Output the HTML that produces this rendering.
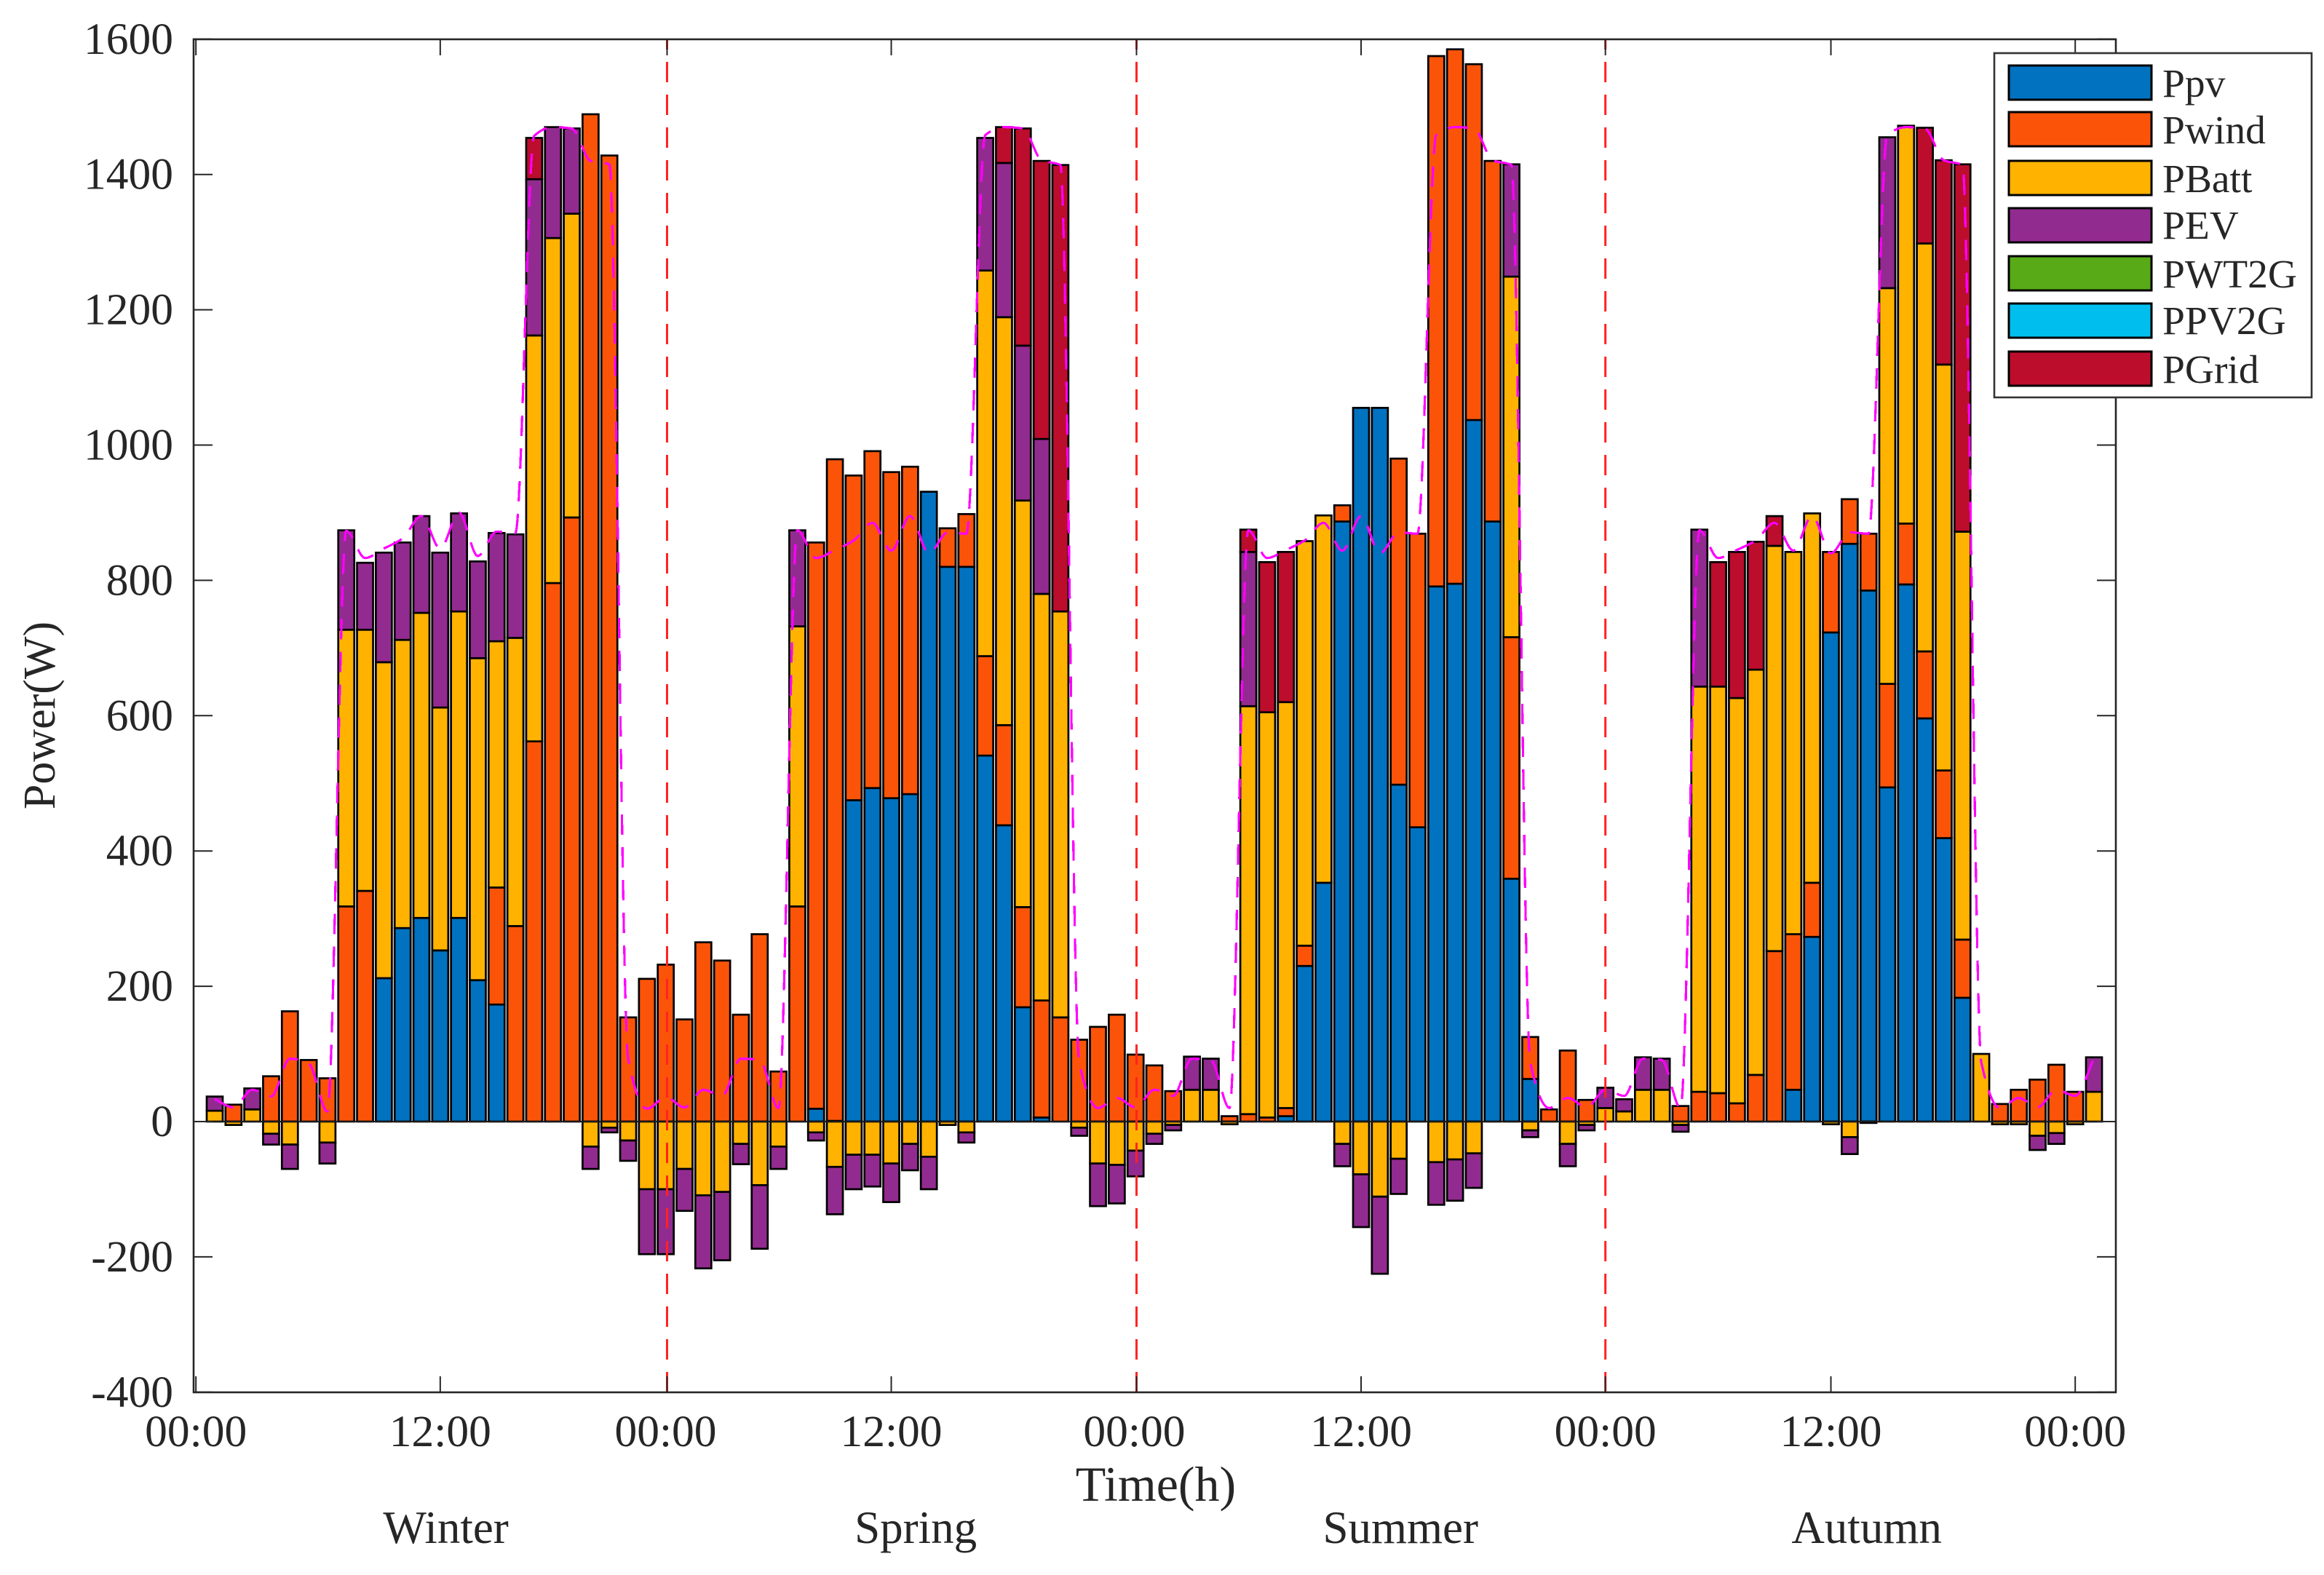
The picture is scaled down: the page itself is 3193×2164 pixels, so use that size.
<!DOCTYPE html>
<html lang="en">
<head>
<meta charset="utf-8">
<title>Seasonal power balance</title>
<style>
html,body{margin:0;padding:0;background:#fff;}
svg{display:block;}
text{font-family:"Liberation Serif",serif;fill:#262626;}
</style>
</head>
<body>
<svg id="chart" xmlns="http://www.w3.org/2000/svg" width="3193" height="2164" viewBox="0 0 3193 2164">
  <rect x="0" y="0" width="3193" height="2164" fill="#ffffff"/>
  <g id="marks"></g>
  <g id="overlay"></g>
  <g id="axes"></g>
  <g id="legend"></g>
</svg>
<script>
const ppv = [0,0,0,0,0,0,0,0,0,212,286,301,253,301,209,173,0,0,0,0,0,0,0,0,0,
0,0,0,0,0,0,0,19,1,475,493,478,484,931,820,820,541,438,169,6,0,0,0,0,0,
0,0,0,0,0,0,0,8,230,353,887,1055,1055,498,435,791,795,1037,887,359,63,0,0,0,0,
0,0,0,0,0,0,0,0,0,47,273,723,854,785,494,794,596,419,183,0,0,0,0,0,0,0];
const pwind = [0,25,0,67,163,91,64,318,341,0,0,0,0,0,0,173,289,562,796,893,1489,1428,154,211,232,
151,265,238,158,277,74,318,837,978,480,498,482,484,0,57,78,147,148,148,173,154,121,140,158,99,
83,45,0,0,8,11,6,12,30,0,24,0,0,482,434,784,790,526,533,357,62,18,105,32,0,
0,0,0,23,44,42,27,69,252,230,80,119,66,84,153,90,99,100,86,0,26,47,62,84,44,0];
const pbatt = [16,-5,18,-18,-34,0,-31,409,386,467,426,451,359,453,476,364,426,600,510,449,-37,-9,-28,-100,-100,
-70,-109,-104,-33,-94,-37,414,-16,-67,-49,-49,-62,-33,-52,-5,-16,570,603,601,601,600,-9,-62,-64,-43,
-18,-5,47,47,-4,603,599,600,598,543,-33,-78,-111,-55,0,-60,-56,-47,0,533,-13,0,-33,-5,20,
15,47,47,-5,599,601,599,599,599,565,546,-4,-23,-2,585,588,603,600,603,100,-4,-4,-21,-17,-4,44];
const pev = [21,0,31,-16,-36,0,-31,147,99,162,144,143,229,145,143,160,153,231,164,126,-33,-7,-30,-96,-96,
-62,-108,-101,-30,-94,-33,142,-12,-70,-51,-47,-57,-39,-48,0,-15,196,228,229,229,0,-12,-63,-57,-38,
-15,-8,49,46,0,228,0,0,0,0,-33,-78,-114,-52,0,-63,-61,-51,0,166,-10,0,-33,-8,30,
18,48,46,-10,232,0,0,0,0,0,0,0,-25,0,223,0,0,0,0,0,0,0,-21,-16,0,51];
const pgrid = [0,0,0,0,0,0,0,0,0,0,0,0,0,0,0,0,0,61,0,0,0,0,0,0,0,
0,0,0,0,0,0,0,0,0,0,0,0,0,0,0,0,0,53,321,411,660,0,0,0,0,
0,0,0,0,0,33,222,222,0,0,0,0,0,0,0,0,0,0,0,0,0,0,0,0,0,
0,0,0,0,0,184,216,189,44,0,0,0,0,0,0,0,171,302,543,0,0,0,0,0,0,0];
const loadDemand = [33,21,47,37,93,86,15,873,833,847,862,895,847,900,836,872,870,1457,1470,1468,1420,1415,93,19,36,
21,47,38,93,91,20,874,833,845,859,885,844,895,840,871,869,1458,1470,1468,1421,1414,88,20,35,21,
47,38,93,91,20,874,833,845,859,885,844,895,840,871,869,1458,1470,1468,1421,1414,88,20,35,21,47,
38,93,91,20,874,833,845,859,885,844,895,840,871,869,1458,1470,1468,1421,1414,88,20,35,21,47,38,93];
const yTicks = [-400,-200,0,200,400,600,800,1000,1200,1400,1600];
const xTickIndex = [-1,12,24.07,36,49.05,61,74,86,99];
const xTickLabels = ['00:00','12:00','00:00','12:00','00:00','12:00','00:00','12:00','00:00'];
const seasonBoundaries = [24.07,49.05,74];
const seasonNames = ['Winter','Spring','Summer','Autumn'];
const seasonCenters = [12.3,37.3,63.1,87.9];
const legendLabels = ['Ppv','Pwind','PBatt','PEV','PWT2G','PPV2G','PGrid'];
const legendColors = ['#0072c0','#fb5409','#ffb300','#922b8f','#58ab16','#00bfef','#bc0d2d'];

const SVGNS = 'http://www.w3.org/2000/svg';
const plot = {left:266, right:2907, top:54, bottom:1913};
function xPos(i){ return 295 + 25.82*i; }
function yPos(v){ return 1541 - 0.9295*v; }
function make(tag, parent, attrs, txt){
  const e = document.createElementNS(SVGNS, tag);
  for (const k in attrs) e.setAttribute(k, attrs[k]);
  if (txt !== undefined) e.textContent = txt;
  parent.appendChild(e);
  return e;
}
/* monotone cubic path through the demand values */
function monotonePath(xs, ys){
  const n = xs.length, d = [], m = [];
  for (let i = 0; i < n-1; i++) d.push((ys[i+1]-ys[i])/(xs[i+1]-xs[i]));
  m.push(d[0]);
  for (let i = 1; i < n-1; i++) {
    if (d[i-1]*d[i] <= 0) m.push(0);
    else m.push(2*d[i-1]*d[i]/(d[i-1]+d[i]));
  }
  m.push(d[n-2]);
  let p = 'M' + xs[0].toFixed(1) + ' ' + ys[0].toFixed(1);
  for (let i = 0; i < n-1; i++) {
    const h = (xs[i+1]-xs[i])/3;
    p += 'C' + (xs[i]+h).toFixed(1) + ' ' + (ys[i]+m[i]*h).toFixed(1) + ' ' +
         (xs[i+1]-h).toFixed(1) + ' ' + (ys[i+1]-m[i+1]*h).toFixed(1) + ' ' +
         xs[i+1].toFixed(1) + ' ' + ys[i+1].toFixed(1);
  }
  return p;
}
const marks = document.getElementById('marks');
const overlay = document.getElementById('overlay');
const axes = document.getElementById('axes');
const legend = document.getElementById('legend');

/* stacked bars */
const stackSeries = [
  {key:'ppv', values:ppv, color:legendColors[0]},
  {key:'pwind', values:pwind, color:legendColors[1]},
  {key:'pbatt', values:pbatt, color:legendColors[2]},
  {key:'pev', values:pev, color:legendColors[3]},
  {key:'pgrid', values:pgrid, color:legendColors[6]}
];
const barW = 22;
for (let i = 0; i < ppv.length; i++) {
  let pos = 0, neg = 0;
  stackSeries.forEach(function(s){
    const v = s.values[i];
    if (!v) return;
    let y0, y1;
    if (v > 0) { y0 = pos; y1 = pos + v; pos = y1; }
    else { y0 = neg; y1 = neg + v; neg = y1; }
    const top = Math.min(yPos(y0), yPos(y1));
    const h = Math.abs(yPos(y1) - yPos(y0));
    const el = make('rect', marks, {x:xPos(i)-barW/2, y:top, width:barW, height:h, fill:s.color, stroke:'#000000', 'stroke-width':2.7});
    
    
  });
}

/* zero baseline */
const baseline = make('line', overlay, {x1:plot.left, x2:plot.right, y1:yPos(0), y2:yPos(0), stroke:'#1a1a1a', 'stroke-width':2});



/* load line */
const loadD = monotonePath(loadDemand.map(function(v,i){ return xPos(i); }), loadDemand.map(function(v){ return yPos(v); }));
const loadLine = make('path', overlay, {d:loadD, fill:'none', stroke:'#ff00ff', 'stroke-width':3.2, 'stroke-dasharray':'28 17', 'shape-rendering':'crispEdges'});



/* season dividers */
seasonBoundaries.forEach(function(b, k){
  const l = make('line', overlay, {x1:xPos(b), x2:xPos(b), y1:plot.bottom, y2:plot.top, stroke:'#ff2222', 'stroke-width':3, 'stroke-dasharray':'28 17'});
  
  
});

/* axis box */
const box = make('rect', axes, {x:plot.left, y:plot.top, width:plot.right-plot.left, height:plot.bottom-plot.top, fill:'none', stroke:'#262626', 'stroke-width':2.6});



/* y ticks */
yTicks.forEach(function(v){
  const y = yPos(v);
  const t1 = make('line', axes, {x1:plot.left, x2:plot.left+26, y1:y, y2:y, stroke:'#262626', 'stroke-width':2});
  
  
  const t2 = make('line', axes, {x1:plot.right, x2:plot.right-26, y1:y, y2:y, stroke:'#262626', 'stroke-width':2});
  
  
  const lab = make('text', axes, {x:238, y:y+20, 'text-anchor':'end', 'font-size':61.5}, String(v));
  
  
});

/* x ticks */
const labelNudge = {2:-2, 4:-3};
xTickIndex.forEach(function(ix, k){
  const x = xPos(ix);
  const t1 = make('line', axes, {x1:x, x2:x, y1:plot.bottom, y2:plot.bottom-22, stroke:'#262626', 'stroke-width':2});
  
  
  const t2 = make('line', axes, {x1:x, x2:x, y1:plot.top, y2:plot.top+22, stroke:'#262626', 'stroke-width':2});
  
  
  const lab = make('text', axes, {x:x+(labelNudge[k]||0), y:1987, 'text-anchor':'middle', 'font-size':61.5}, xTickLabels[k]);
  
  
});

/* axis titles */
const xTitle = make('text', axes, {x:1588, y:2062, 'text-anchor':'middle', 'font-size':68}, 'Time(h)');


const yTitle = make('text', axes, {x:0, y:0, 'text-anchor':'middle', 'font-size':62, transform:'translate(75 983) rotate(-90)'}, 'Power(W)');



/* season labels */
seasonNames.forEach(function(n, k){
  const s = make('text', axes, {x:xPos(seasonCenters[k]), y:2120, 'text-anchor':'middle', 'font-size':63, fill:'#111111'}, n);
  
  
});

/* legend */
const legendBox = make('rect', legend, {x:2740, y:73, width:436, height:473, fill:'#ffffff', stroke:'#333333', 'stroke-width':2.6});


const legendTops = [90,154,221,286,352,417,483];
const legendBase = [133,197,264,328,395,459,526];
legendLabels.forEach(function(n, k){
  const sw = make('rect', legend, {x:2760, y:legendTops[k], width:196, height:47, fill:legendColors[k], stroke:'#000000', 'stroke-width':3});
  
  
  const tx = make('text', legend, {x:2971, y:legendBase[k], 'font-size':55.5}, n);
  
  
});
</script>
</body>
</html>
